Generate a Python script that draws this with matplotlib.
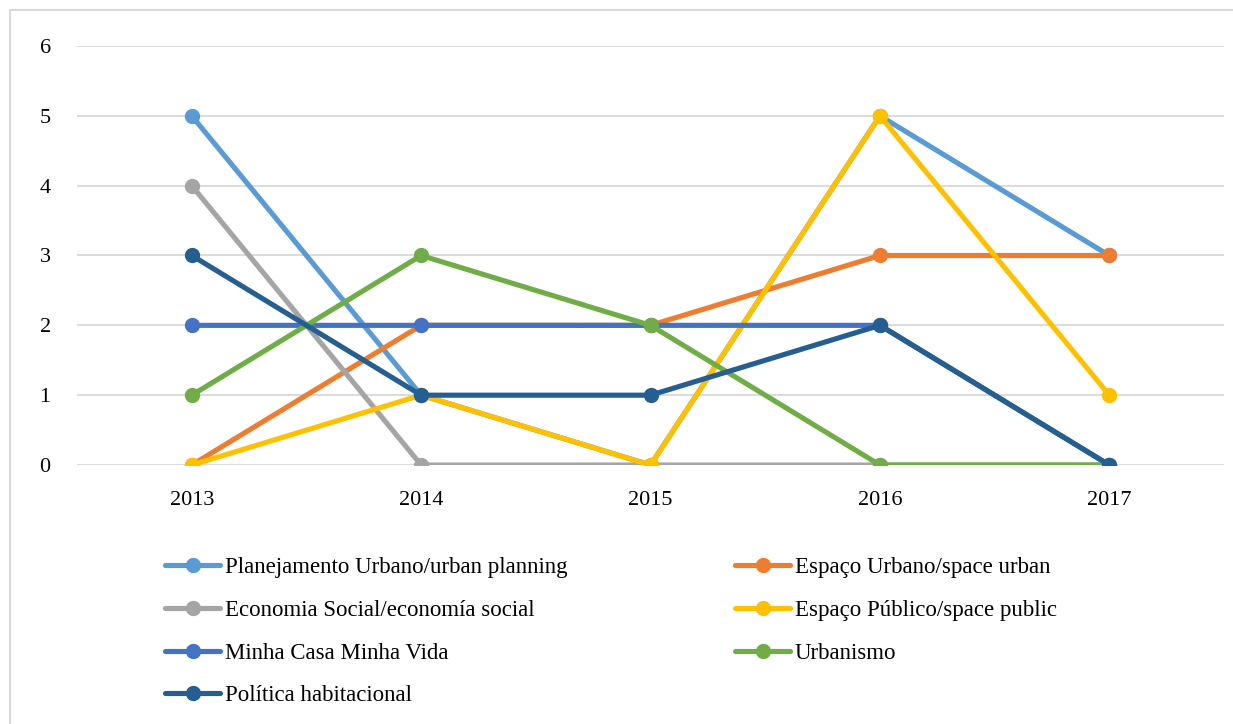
import numpy as np
import matplotlib.pyplot as plt
from matplotlib.patches import Rectangle

anos = ["2013", "2014", "2015", "2016", "2017"]

planejamento = [5, 1, 0, 5, 3]
espaco_urbano = [0, 2, 2, 3, 3]
economia = [4, 0, 0, 0, 0]
espaco_publico = [0, 1, 0, 5, 1]
minha_casa = [2, 2, 2, 2, 0]
urbanismo = [1, 3, 2, 0, 0]
politica = [3, 1, 1, 2, 0]

series = [
    ("Planejamento Urbano/urban planning", planejamento, "#5B9BD5"),
    ("Espaço Urbano/space urban", espaco_urbano, "#ED7D31"),
    ("Economia Social/economía social", economia, "#A5A5A5"),
    ("Espaço Público/space public", espaco_publico, "#FFC000"),
    ("Minha Casa Minha Vida", minha_casa, "#4472C4"),
    ("Urbanismo", urbanismo, "#70AD47"),
    ("Política habitacional", politica, "#255E91"),
]

plt.rcParams['font.family'] = ['Liberation Serif', 'DejaVu Serif']

fig = plt.figure(figsize=(12.33, 7.24), dpi=100)
ax = fig.add_axes([0.0625, 0.3577, 0.9302, 0.5788])

x = np.arange(len(anos))
linhas = {}
for nome, valores, cor in series:
    l, = ax.plot(x, valores, color=cor, lw=3.7, marker='o', ms=10,
                 solid_capstyle='round', label=nome)
    linhas[nome] = l

ax.set_xlim(-0.5, 4.5)
ax.set_ylim(0, 6)
ax.set_yticks(range(7))
ax.set_xticks(x, anos)
ax.tick_params(length=0, labelsize=16, colors='black')
ax.tick_params(axis='y', pad=19)
ax.tick_params(axis='x', pad=18.5)
for s in ax.spines.values():
    s.set_visible(False)
ax.grid(axis='y', color='#D9D9D9', lw=1.3)
ax.set_axisbelow(True)

# legenda em duas colunas, preenchida linha a linha
nomes = [s[0] for s in series]
esq = [nomes[i] for i in (0, 2, 4, 6)]
dir_ = [nomes[i] for i in (1, 3, 5)]
kw = dict(frameon=False, fontsize=16.5, handlelength=2.4, handletextpad=0.22,
          labelspacing=0.95, borderaxespad=0, borderpad=0)
leg1 = fig.legend([linhas[n] for n in esq], esq, loc='upper left',
                  bbox_to_anchor=(165 / 1233, 1 - 557 / 724), **kw)
leg2 = fig.legend([linhas[n] for n in dir_], dir_, loc='upper left',
                  bbox_to_anchor=(735 / 1233, 1 - 557 / 724), **kw)

fig.patches.append(Rectangle((10 / 1233, -0.05), 1.0, 1 - 10 / 724 + 0.05,
                             transform=fig.transFigure, fill=False,
                             edgecolor='#D9D9D9', lw=1.5))

fig.savefig("out.png", dpi=100)
